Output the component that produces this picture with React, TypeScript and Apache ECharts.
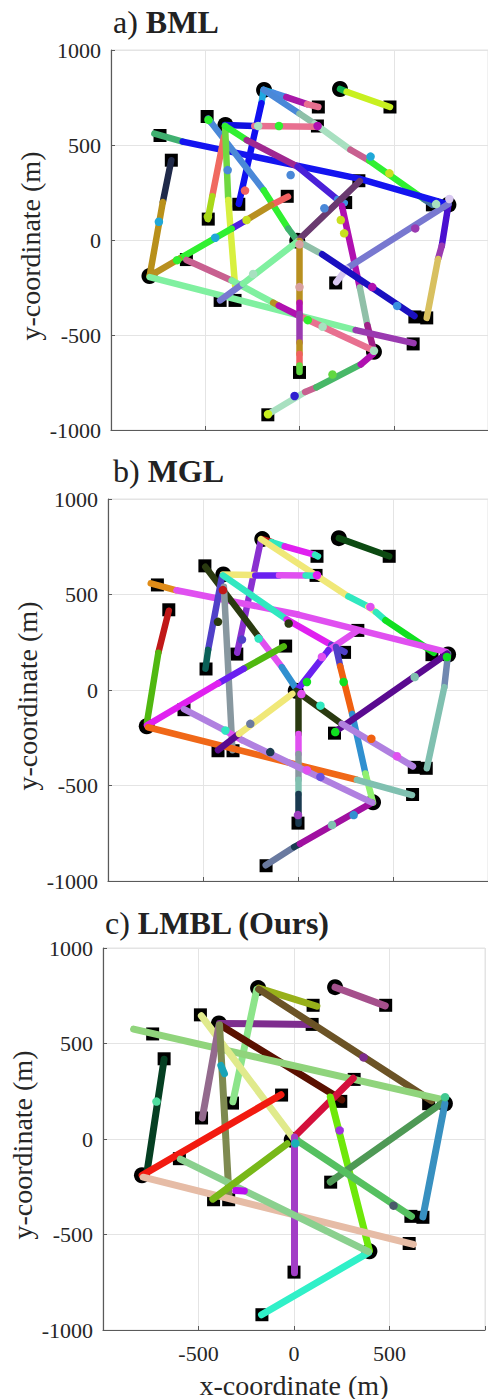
import React, { useEffect, useRef } from 'react';
import * as echarts from 'echarts';

// ---------- shared markers (data coordinates, metres) ----------
const startSquares: number[][] = [
  [100, 700], [480, 700], [-490, 650], [95, 600], [-740, 550], [-680, 420], [315, 312],
  [-65, 230], [-322, 188], [245, 197], [705, 185], [-484, 110], [-600, -103], [192, -226],
  [-421, -318], [-342, -318], [612, -405], [675, -410], [603, -547], [0, -697], [-168, -920],
];
const goalCircles: number[][] = [
  [-188, 790], [215, 795], [-393, 605], [790, 186], [-12, -4], [-796, -190], [395, -588],
];

// ---------- panel a) BML ----------
const pathsA: number[][][] = [
  [[-190, 790], [-140, 775], [-70, 752], [40, 715], [100, 700]],
  [[215, 795], [250, 780], [480, 700]],
  [[-190, 790], [-202, 720], [-322, 190]],
  [[-190, 790], [0, 665], [80, 612], [270, 475], [370, 418], [660, 215], [705, 185]],
  [[-395, 605], [-240, 600], [96, 596]],
  [[-770, 560], [-620, 518], [320, 322], [790, 188]],
  [[-680, 420], [-725, 200], [-795, -190]],
  [[-485, 640], [-470, 620], [-190, 262], [-60, 60], [-10, -5]],
  [[-400, 545], [-463, 230], [-486, 110]],
  [[-395, 600], [-378, 210], [-342, -240]],
  [[-395, 600], [-280, 526], [-10, 386], [200, 215], [240, 195]],
  [[-61, 228], [-150, 184], [-290, 100], [-360, 60], [-640, -100], [-795, -190]],
  [[320, 310], [-10, -5]],
  [[225, 180], [320, -250], [360, -448], [395, -585]],
  [[790, 185], [755, -30], [735, -100], [675, -410]],
  [[790, 190], [250, -150], [195, -222]],
  [[-10, -5], [120, -75], [610, -400]],
  [[-795, -195], [298, -474], [605, -543]],
  [[-600, -105], [-360, -213], [-140, -330], [-110, -345], [0, -400], [390, -580]],
  [[-167, -917], [30, -800], [90, -775], [325, -655], [390, -600]],
  [[0, -5], [0, -330], [0, -390], [0, -540], [0, -600], [0, -660], [0, -695]],
  [[-421, -318], [-300, -230], [-20, -15]],
];
const colorsA: string[][] = [
  ['#1ea8e0', '#4a8ae0', '#a818a8', '#e87090'],
  ['#10b050', '#c8f020'],
  ['#1ea8e0', '#1010f0'],
  ['#4a88d8', '#8ec0a8', '#a8e0c0', '#c86090', '#30f030', '#4070a0'],
  ['#1010e0', '#e87090'],
  ['#40b070', '#1414f0', '#1414f0'],
  ['#202a4a', '#b8901a'],
  ['#3a60a8', '#4a88d8', '#30f030', '#40b070'],
  ['#f06a60', '#a8d818'],
  ['#70d840', '#d8f040'],
  ['#30f030', '#a02890', '#4a20d8', '#4090e0'],
  ['#f06060', '#b89020', '#5020e0', '#30f030', '#b89020'],
  ['#6a3a70'],
  ['#b010b0', '#90c0a8', '#a02088'],
  ['#4a10d0', '#9a3ab0', '#d8c060'],
  ['#7878d0', '#d8c8f0'],
  ['#90c0a8', '#1a10c0'],
  ['#80f0a0', '#9a3ab0'],
  ['#c86090', '#80f0a0', '#b89020', '#b010b0', '#e87090'],
  ['#a8e0c0', '#c86090', '#48b868', '#b010b0'],
  ['#b89020', '#b010b0', '#9a3ab0', '#b89020', '#f06060', '#60d840'],
  ['#7878d0', '#80f0a0'],
];
const dotsA: number[][] = [
  [-219, 600], [-109, 600], [96, 600], [-483, 632], [-746, 96], [-289, 260], [-381, 368],
  [-47, 342], [132, 167], [219, 105], [237, 35], [377, 439], [477, 351], [725, 189],
  [795, 216], [614, 61], [-281, 105], [-447, 12], [-649, -106], [-246, -179], [0, -23],
  [0, -248], [44, -422], [123, -457], [175, -708], [386, -248], [518, -347], [395, -583],
  [-167, -917], [-486, 123], [-26, -821],
];
const dotColorsA: string[] = [
  '#a8e0c0', '#30f030', '#b010b0', '#30f030', '#20a8d8', '#f06060', '#4a88d8',
  '#4a88d8', '#4a88d8', '#c8e020', '#c8e020', '#20a8d8', '#c8e020', '#a8e0c0',
  '#d8c8f0', '#9a3ab0', '#c8e020', '#20a8d8', '#30f030', '#a8e0c0', '#d8a0a0',
  '#d8a0a0', '#30f030', '#a8e0c0', '#60d840', '#b010b0', '#3a90e0', '#a8e0c0',
  '#c8f020', '#a8d818', '#3020d0',
];

// ---------- panel b) MGL ----------
const pathsB: number[][][] = [
  [[-190, 790], [-140, 775], [-70, 752], [90, 708], [105, 700]],
  [[215, 795], [480, 700]],
  [[-195, 785], [-320, 195]],
  [[-195, 790], [265, 490], [370, 436], [410, 408], [460, 365], [715, 195]],
  [[-395, 605], [-225, 602], [-100, 601], [40, 600], [96, 598]],
  [[-775, 558], [-640, 522], [0, 395], [780, 200]],
  [[-680, 415], [-735, 195], [-795, -170]],
  [[-488, 645], [-205, 275], [-85, 120], [-15, 15]],
  [[-400, 595], [-473, 210], [-487, 112]],
  [[-390, 540], [-345, -315]],
  [[-395, 600], [-60, 370], [175, 236], [245, 200]],
  [[-75, 228], [-285, 112], [-420, 35], [-795, -185]],
  [[315, 312], [160, 208], [0, 5]],
  [[200, 225], [222, 125], [285, -125], [355, -437], [395, -590]],
  [[790, 190], [770, 15], [678, -410]],
  [[785, 190], [200, -215]],
  [[-10, -5], [230, -177], [605, -400]],
  [[-790, -195], [310, -470], [600, -550]],
  [[0, -10], [0, -230], [0, -335], [0, -470], [0, -545], [0, -700]],
  [[-170, -918], [-20, -822], [10, -806], [390, -590]],
  [[-600, -100], [-385, -212], [-295, -262], [390, -590]],
  [[-421, -315], [-310, -230], [-30, -20]],
];
const colorsB: string[][] = [
  ['#c01818', '#30e8c0', '#e020f0', '#30e8c0'],
  ['#0c4a12'],
  ['#8a30d0'],
  ['#f0e878', '#30e8c0', '#f0e878', '#30e8c0', '#10e020'],
  ['#f0e878', '#6a20f0', '#e050f0', '#30e8c0'],
  ['#e08c18', '#e050f0', '#e050f0'],
  ['#c01818', '#50b810'],
  ['#2a3a10', '#e050f0', '#3090d0'],
  ['#5040c8', '#0a6058'],
  ['#8898a0'],
  ['#30e8c0', '#e020f0', '#5040c8'],
  ['#50b810', '#6a20f0', '#e020f0'],
  ['#e050f0', '#6a20f0'],
  ['#5040c8', '#f06010', '#3090d0', '#90f070'],
  ['#7088b0', '#80c0b0'],
  ['#5a0a90'],
  ['#2a3a10', '#b080e0'],
  ['#f06818', '#80c0b0'],
  ['#2a3a10', '#e050f0', '#8898a0', '#80c0b0', '#1a3a50'],
  ['#6a7aa0', '#1a3a50', '#a010a0'],
  ['#b080e0', '#e050f0', '#b080e0'],
  ['#5a0a90', '#f0e878'],
];
const dotsB: number[][] = [
  [-207, 269], [-295, 264], [-395, 523], [-49, 348], [-421, 357], [240, 42], [784, 173],
  [614, 68], [381, 435], [100, 601], [126, 173], [118, -82], [386, -255], [521, -347],
  [196, -220], [0, -655], [179, -707], [293, -655], [-146, -325], [47, -420], [118, -455],
  [-251, -177], [-382, -212], [18, -21], [47, 42],
];
const dotColorsB: string[] = [
  '#30e8c0', '#5040c8', '#c01818', '#2a3a10', '#2a3a10', '#10e020', '#10e020',
  '#80c0b0', '#e050f0', '#e020f0', '#e050f0', '#30e8c0', '#f06010', '#e050f0',
  '#10e020', '#a040c0', '#80c0b0', '#3090d0', '#1a3a50', '#e050f0', '#6a50e0',
  '#6a7aa0', '#30e8c0', '#e050f0', '#10e020',
];

// ---------- panel c) LMBL (Ours) ----------
const pathsC: number[][][] = [
  [[-185, 790], [120, 695]],
  [[215, 795], [478, 697]],
  [[-390, 605], [95, 600]],
  [[-320, 195], [-195, 783]],
  [[-385, 595], [250, 205]],
  [[-185, 785], [720, 200]],
  [[-840, 575], [785, 205]],
  [[-680, 418], [-770, -175]],
  [[-485, 645], [0, 0]],
  [[-480, 110], [-393, 595]],
  [[-390, 598], [-340, -305]],
  [[-68, 232], [-795, -190]],
  [[310, 318], [15, 25]],
  [[190, 220], [395, -585]],
  [[190, -225], [785, 195]],
  [[675, -408], [790, 185]],
  [[5, 0], [615, -405]],
  [[-790, -200], [625, -552]],
  [[0, 10], [0, -700]],
  [[-170, -920], [390, -595]],
  [[-595, -105], [390, -590]],
  [[-425, -315], [-35, -25]],
  [[-383, 385], [-364, 342]],
  [[-305, -270], [-260, -272]],
];
const colorsC: string[][] = [
  ['#98b01a'], ['#a5508c'], ['#7e2d8e'], ['#8ce48a'], ['#5a1000'], ['#6b5326'],
  ['#90d47c'], ['#053f22'], ['#e0ea8c'], ['#936a8d'], ['#7e8a50'], ['#f21a10'],
  ['#d4103c'], ['#6ee80a'], ['#4e9955'], ['#3890c0'], ['#55c060'], ['#e6bca6'],
  ['#a23ec6'], ['#30f0c8'], ['#8ad08e'], ['#78b818'], ['#18a4b8'], ['#b80ef0'],
];
const dotsC: number[][] = [
  [-720, 196], [364, 427], [239, 45], [521, -349], [7, -23], [791, 219],
];
const dotColorsC: string[] = ['#50e0a0', '#7e2d8e', '#a030e0', '#4a5a6a', '#18b0b8', '#40c890'];

const titlesNormal = ['a) ', 'b) ', 'c) '];
const titlesBold = ['BML', 'MGL', 'LMBL (Ours)'];
const tickValues = [-1000, -500, 0, 500, 1000];

const FONT = 'Liberation Serif';

function buildSegments(paths: number[][][], colors: string[][]) {
  const out: any[] = [];
  paths.forEach((pts, i) => {
    for (let k = 0; k < pts.length - 1; k++) {
      out.push({
        coords: [pts[k], pts[k + 1]],
        lineStyle: { color: colors[i][Math.min(k, colors[i].length - 1)] },
      });
    }
  });
  return out;
}

export default function App() {
  const ref = useRef<HTMLDivElement>(null);

  useEffect(() => {
    if (!ref.current) return;
    const chart = echarts.init(ref.current, null, { renderer: 'svg' });

    const panels = [
      { left: 111, top: 50, size: 380, titleX: 113, titleY: 22, ylabX: 30, lw: 6.5 },
      { left: 108, top: 499, size: 382, titleX: 113, titleY: 471, ylabX: 27, lw: 6.5 },
      { left: 103, top: 948, size: 382, titleX: 105, titleY: 923, ylabX: 22, lw: 7 },
    ];
    const paths = [pathsA, pathsB, pathsC];
    const colors = [colorsA, colorsB, colorsC];
    const dots = [dotsA, dotsB, dotsC];
    const dotColors = [dotColorsA, dotColorsB, dotColorsC];

    const grid: any[] = [];
    const xAxis: any[] = [];
    const yAxis: any[] = [];
    const series: any[] = [];
    const graphic: any[] = [];

    panels.forEach((p, i) => {
      grid.push({
        left: p.left, top: p.top, width: p.size, height: p.size,
        show: true, borderColor: '#e2e2e2', borderWidth: 1, containLabel: false,
      });
      const common = {
        type: 'value', gridIndex: i, min: tickValues[0], max: tickValues[tickValues.length - 1], interval: 500,
        axisLine: { show: true, onZero: false, lineStyle: { color: '#5a5a5a', width: 1.2 } },
        axisTick: { show: true, inside: true, length: 4, lineStyle: { color: '#5a5a5a' } },
        splitLine: { show: true, lineStyle: { color: '#e4e4e4', width: 1 } },
      };
      xAxis.push({
        ...common,
        axisLabel: {
          show: i === 2, margin: 12, fontSize: 22, fontFamily: FONT, color: '#262626',
          formatter: (v: number) => (Math.abs(v) === 1000 ? '' : String(v)),
        },
      });
      yAxis.push({
        ...common,
        axisLabel: {
          show: true, margin: 10, fontSize: 22, fontFamily: FONT, color: '#262626',
          formatter: (v: number) => String(v),
        },
      });

      series.push({
        type: 'scatter', xAxisIndex: i, yAxisIndex: i, symbol: 'rect', symbolSize: 13,
        itemStyle: { color: '#000', opacity: 1 }, data: startSquares, z: 2, silent: true,
      });
      series.push({
        type: 'scatter', xAxisIndex: i, yAxisIndex: i, symbol: 'circle', symbolSize: 16,
        itemStyle: { color: '#000', opacity: 1 }, data: goalCircles, z: 2, silent: true,
      });
      series.push({
        type: 'lines', coordinateSystem: 'cartesian2d', xAxisIndex: i, yAxisIndex: i,
        polyline: false, silent: true, z: 3,
        lineStyle: { width: p.lw, opacity: 1, cap: 'round', join: 'round' },
        data: buildSegments(paths[i], colors[i]),
      });
      series.push({
        type: 'scatter', xAxisIndex: i, yAxisIndex: i, symbol: 'circle', symbolSize: 8.5,
        z: 4, silent: true,
        data: dots[i].map((d, k) => ({ value: d, itemStyle: { color: dotColors[i][k], opacity: 1 } })),
      });

      graphic.push({
        type: 'text', x: p.titleX, y: p.titleY,
        style: {
          text: '{n|' + titlesNormal[i] + '}{b|' + titlesBold[i] + '}',
          align: 'left', verticalAlign: 'middle',
          rich: {
            n: { fontSize: 32, fontFamily: FONT, fill: '#222' },
            b: { fontSize: 32, fontFamily: FONT, fontWeight: 'bold', fill: '#222' },
          },
        },
      });
      graphic.push({
        type: 'text', x: p.ylabX, y: p.top + p.size / 2 + 6, rotation: Math.PI / 2,
        style: {
          text: 'y-coordinate (m)', fontSize: 28, fontFamily: FONT, fill: '#262626',
          align: 'center', verticalAlign: 'middle',
        },
      });
    });

    graphic.push({
      type: 'text', x: 294, y: 1385,
      style: {
        text: 'x-coordinate (m)', fontSize: 28, fontFamily: FONT, fill: '#262626',
        align: 'center', verticalAlign: 'middle',
      },
    });

    chart.setOption({
      animation: false,
      backgroundColor: '#fff',
      textStyle: { fontFamily: FONT },
      grid, xAxis, yAxis, series, graphic,
    });

    return () => chart.dispose();
  }, []);

  return (
    <div
      ref={ref}
      style={{ position: 'absolute', left: 0, top: 0, width: 488, height: 1399 }}
    />
  );
}
